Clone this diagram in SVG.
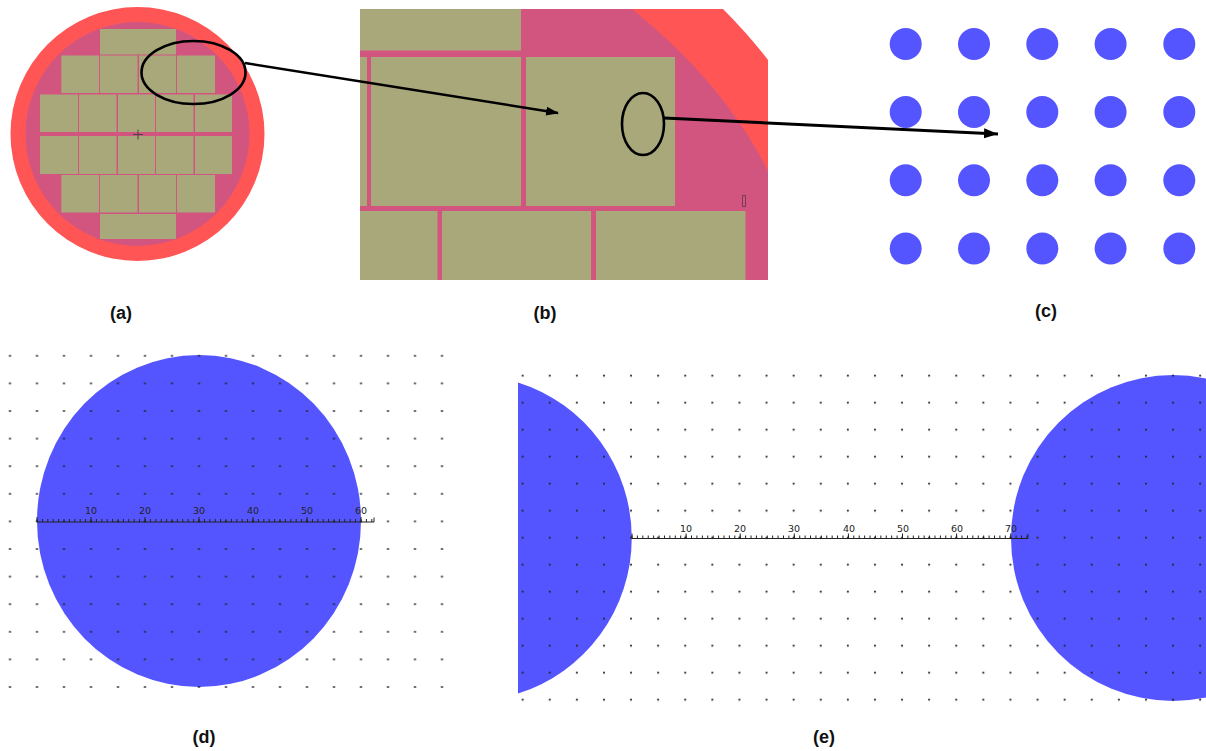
<svg xmlns="http://www.w3.org/2000/svg" width="1206" height="751" viewBox="0 0 1206 751">
<style>
.red{fill:#ff5555}.pink{fill:#d25580}.die{fill:#a8a87a}.blue{fill:#5555ff}
.loop{fill:none;stroke:#000;stroke-width:2.6}
.conn{fill:none;stroke:#000;stroke-width:2.5}
.cap{font:bold 18px "Liberation Sans",Arial,sans-serif;text-anchor:middle;fill:#111}
.num{font:9.500px "DejaVu Sans",sans-serif;text-anchor:middle;fill:#222}
.base{stroke:#222;stroke-width:1;fill:none}
</style>
<defs>
<marker id="arrow" markerUnits="userSpaceOnUse" markerWidth="14" markerHeight="10" refX="12" refY="4.500" orient="auto"><path d="M0 0L13 4.500L0 9Z" fill="#000"/></marker>
<marker id="arrow2" markerUnits="userSpaceOnUse" markerWidth="15" markerHeight="11" refX="14" refY="5" orient="auto"><path d="M0 0L14 5L0 10Z" fill="#000"/></marker>
<pattern id="dotsD" patternUnits="userSpaceOnUse" x="-3.500" y="342" width="27" height="27.600"><circle cx="13.500" cy="13.800" r="1.100" fill="#222"/></pattern>
<pattern id="dotsE" patternUnits="userSpaceOnUse" x="509.100" y="362.200" width="27.100" height="27"><circle cx="13.550" cy="13.500" r="1.100" fill="#222"/></pattern>
</defs>
<g id="panel-a">
<circle class="red" cx="137.500" cy="134" r="127"/>
<circle class="pink" cx="137.500" cy="134" r="112"/>
<g class="die">
<rect x="100" y="29" width="76" height="25.500"/>
<rect x="61.300" y="55.500" width="37.700" height="37.500"/><rect x="100" y="55.500" width="37.500" height="37.500"/><rect x="139" y="55.500" width="37" height="37.500"/><rect x="177" y="55.500" width="38" height="37.500"/>
<rect x="40" y="94.500" width="38" height="37.500"/><rect x="79" y="94.500" width="37.500" height="37.500"/><rect x="118" y="94.500" width="37" height="37.500"/><rect x="156" y="94.500" width="37.500" height="37.500"/><rect x="195" y="94.500" width="37" height="37.500"/>
<rect x="40" y="136" width="38" height="38"/><rect x="79" y="136" width="37.500" height="38"/><rect x="118" y="136" width="37" height="38"/><rect x="156" y="136" width="37.500" height="38"/><rect x="195" y="136" width="37" height="38"/>
<rect x="61.300" y="175" width="37.700" height="37.500"/><rect x="100" y="175" width="37.500" height="37.500"/><rect x="139" y="175" width="37" height="37.500"/><rect x="177" y="175" width="38" height="37.500"/>
<rect x="100" y="214" width="76" height="25"/>
</g>
<path d="M133 134.500H143M138 129.500V139.500" stroke="#444" stroke-width="1" fill="none"/>
<ellipse class="loop" cx="193.500" cy="72.500" rx="52" ry="31.500"/>
<text class="cap" x="121" y="319">(a)</text>
</g>
<g id="panel-b">
<path class="red" d="M360 9H723Q748 34 768 60V280H360Z"/>
<path class="pink" d="M360 9H632C695 60 740 115 768 171V280H360Z"/>
<g class="die">
<rect x="360" y="9" width="161" height="41.500"/>
<rect x="360" y="57" width="7" height="149"/><rect x="371" y="57" width="150" height="149"/><rect x="526" y="57" width="149" height="149"/>
<rect x="360" y="211" width="77.500" height="69"/><rect x="442" y="211" width="149" height="69"/><rect x="596" y="211" width="149.500" height="69"/>
</g>
<rect x="742.500" y="195.500" width="3" height="11" fill="none" stroke="#7a3a58" stroke-width="1"/>
<ellipse class="loop" cx="643" cy="124" rx="21" ry="31"/>
<text class="cap" x="545" y="319">(b)</text>
</g>
<g id="panel-c" class="blue">
<circle cx="905.700" cy="44" r="16"/><circle cx="974" cy="44" r="16"/><circle cx="1042.300" cy="44" r="16"/><circle cx="1110.600" cy="44" r="16"/><circle cx="1179.300" cy="44" r="16"/>
<circle cx="905.700" cy="112" r="16"/><circle cx="974" cy="112" r="16"/><circle cx="1042.300" cy="112" r="16"/><circle cx="1110.600" cy="112" r="16"/><circle cx="1179.300" cy="112" r="16"/>
<circle cx="905.700" cy="180.300" r="16"/><circle cx="974" cy="180.300" r="16"/><circle cx="1042.300" cy="180.300" r="16"/><circle cx="1110.600" cy="180.300" r="16"/><circle cx="1179.300" cy="180.300" r="16"/>
<circle cx="905.700" cy="248.500" r="16"/><circle cx="974" cy="248.500" r="16"/><circle cx="1042.300" cy="248.500" r="16"/><circle cx="1110.600" cy="248.500" r="16"/><circle cx="1179.300" cy="248.500" r="16"/>
<text class="cap" x="1046" y="317">(c)</text>
</g>
<g id="panel-d">
<ellipse class="blue" cx="199" cy="521" rx="162" ry="166"/>
<rect x="0" y="342" width="450" height="358" fill="url(#dotsD)"/>
<path class="base" d="M37 522H374V517.500"/>
<line x1="36.500" y1="520.500" x2="375" y2="520.500" stroke="#222" stroke-width="3" stroke-dasharray="1 4.400"/>
<line x1="36.500" y1="519.500" x2="375" y2="519.500" stroke="#222" stroke-width="5" stroke-dasharray="1 53"/>
<g class="num"><text x="91" y="514">10</text><text x="145" y="514">20</text><text x="199" y="514">30</text><text x="253" y="514">40</text><text x="307" y="514">50</text><text x="361" y="514">60</text></g>
<text class="cap" x="204" y="743">(d)</text>
</g>
<g id="panel-e">
<path class="blue" d="M518 382.400A162 163 0 0 1 518 693.600Z"/>
<ellipse class="blue" cx="1173" cy="538" rx="162" ry="163"/>
<rect x="509" y="362" width="697" height="351" fill="url(#dotsE)"/>
<path class="base" d="M632 538.500H1028V534"/>
<line x1="631.500" y1="537" x2="1028" y2="537" stroke="#222" stroke-width="3" stroke-dasharray="1 4.410"/>
<line x1="631.500" y1="536" x2="1028" y2="536" stroke="#222" stroke-width="5" stroke-dasharray="1 53.100"/>
<g class="num"><text x="686" y="531.500">10</text><text x="740" y="531.500">20</text><text x="794" y="531.500">30</text><text x="849" y="531.500">40</text><text x="903" y="531.500">50</text><text x="957" y="531.500">60</text><text x="1011" y="531.500">70</text></g>
<text class="cap" x="824" y="743">(e)</text>
</g>
<g id="connectors">
<line class="conn" x1="245" y1="63" x2="558" y2="113" marker-end="url(#arrow)"/>
<line class="conn" style="stroke-width:3" x1="664" y1="118" x2="998" y2="134" marker-end="url(#arrow2)"/>
</g>
</svg>
